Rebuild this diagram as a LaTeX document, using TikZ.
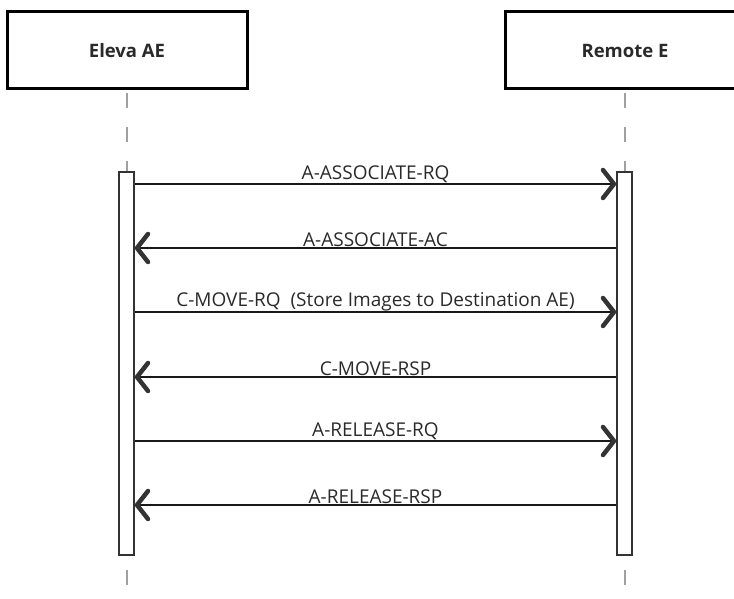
\documentclass[tikz,border=0pt]{standalone}
\usepackage{fontspec}
\setmainfont{Open Sans}
\usetikzlibrary{arrows.meta}
\definecolor{lifegray}{HTML}{A0A0A0}
\definecolor{txt}{HTML}{2A2A2A}
\tikzset{
  actor/.style={draw=black, line width=3pt, fill=white, minimum width=240pt, minimum height=77pt, inner sep=0pt, font=\fontsize{18.5}{22}\selectfont\bfseries, text=txt},
  lifeline/.style={draw=lifegray, line width=2pt, dash pattern=on 15pt off 19pt},
  activation/.style={draw=black!80, line width=1.5pt, fill=white, minimum width=15pt, minimum height=383pt, inner sep=0pt},
  msg/.style={draw=black!90, line width=2.6pt, -{Straight Barb[length=11pt,width=28pt,line width=4.5pt,round,color=black!80]}},
  msglabel/.style={above=0pt, inner sep=0pt, font=\fontsize{19}{22}\selectfont, text=txt}
}
\begin{document}
\begin{tikzpicture}[x=1pt,y=-1pt]
\useasboundingbox (0,0) rectangle (734,599);
\begin{scope}
\clip (0,0) rectangle (734,599);
% actors
\node[actor] (eleva) at (127,50.5) {Eleva AE};
\node[actor] (remote) at (625,50.5) {Remote E};
% lifelines
\coordinate (elevaEnd) at (127,599);
\coordinate (remoteEnd) at (625,599);
\draw[lifeline] ([yshift=-3pt]eleva.south) -- (elevaEnd);
\draw[lifeline] ([yshift=-3pt]remote.south) -- (remoteEnd);
% activations
\node[activation] (actL) at (126.5,363.5) {};
\node[activation] (actR) at (624.5,363.5) {};
% messages
\foreach \i/\y in {1/184,2/248,3/312,4/377,5/441,6/505}{
  \coordinate (l\i) at (actL.east |- 0,\y);
  \coordinate (r\i) at (actR.west |- 0,\y);
}
\draw[msg] (l1) -- (r1) node[midway,msglabel] {A-ASSOCIATE-RQ};
\draw[msg] (r2) -- (l2) node[midway,msglabel] {A-ASSOCIATE-AC};
\draw[msg] (l3) -- (r3) node[midway,msglabel] {C-MOVE-RQ\ \ (Store Images to Destination AE)};
\draw[msg] (r4) -- (l4) node[midway,msglabel] {C-MOVE-RSP};
\draw[msg] (l5) -- (r5) node[midway,msglabel] {A-RELEASE-RQ};
\draw[msg] (r6) -- (l6) node[midway,msglabel] {A-RELEASE-RSP};
\end{scope}
\end{tikzpicture}
\end{document}
